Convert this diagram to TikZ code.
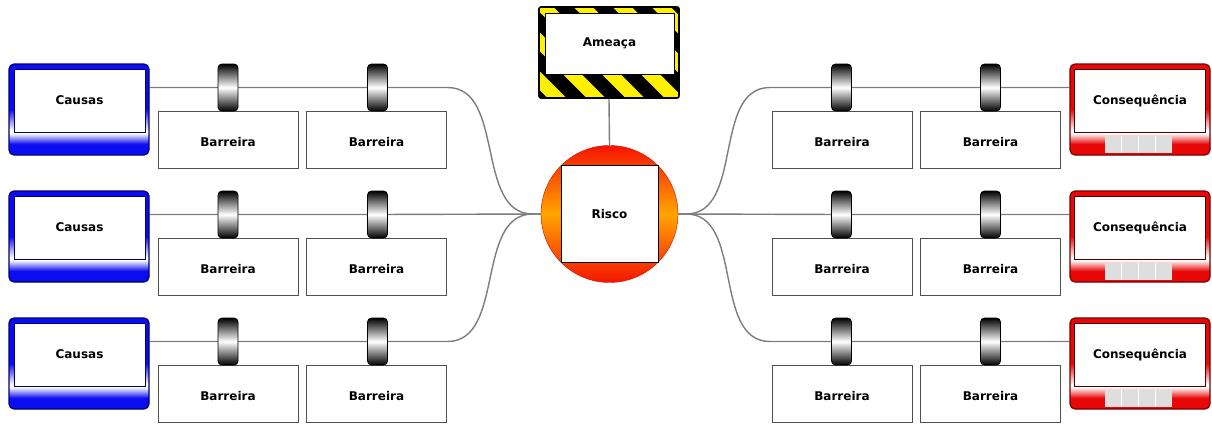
\documentclass[tikz,border=0pt]{standalone}
\usepackage{fontspec}
\setmainfont{DejaVu Sans}
\usetikzlibrary{calc,backgrounds}

\definecolor{causeblue}{RGB}{12,12,240}
\definecolor{causeedge}{RGB}{0,0,110}
\definecolor{conred}{RGB}{232,8,8}
\definecolor{conedge}{RGB}{120,0,0}
\definecolor{linkgray}{RGB}{125,125,125}
\definecolor{boxedge}{RGB}{80,80,80}
\definecolor{hazyellow}{RGB}{255,240,0}
\definecolor{riskred}{RGB}{245,20,0}
\definecolor{riskorange}{RGB}{255,165,0}
\definecolor{cellgray}{RGB}{222,222,222}

% frame shadings: solid colour, fading to white just under the label area, then back
\pgfdeclareverticalshading{causeshade}{100bp}{color(0bp)=(causeblue); color(25bp)=(causeblue); color(31bp)=(causeblue); color(37bp)=(white); color(38.5bp)=(white); color(50bp)=(causeblue); color(75bp)=(causeblue); color(100bp)=(causeblue)}
\pgfdeclareverticalshading{conshade}{100bp}{color(0bp)=(conred); color(25bp)=(conred); color(31bp)=(conred); color(37bp)=(white); color(38.5bp)=(white); color(50bp)=(conred); color(75bp)=(conred); color(100bp)=(conred)}

\tikzset{
  lbl/.style={font=\fontsize{12}{14}\selectfont\bfseries},
  link/.style={draw=linkgray, line width=1.4pt},
  barbox/.style={lbl, draw=boxedge, fill=white, line width=0.9pt, minimum width=140, minimum height=57, inner sep=0pt,
    text height=13.5pt, text depth=0pt},
  cyl/.style={draw=black, line width=0.8pt, rounded corners=4pt, minimum width=20, minimum height=47, inner sep=0pt,
    top color=black, bottom color=black, middle color=white},
  causeframe/.style={draw=causeedge, line width=1.2pt, rounded corners=5pt, minimum width=140, minimum height=91, inner sep=0pt, shading=causeshade},
  conframe/.style={draw=conedge, line width=1.2pt, rounded corners=5pt, minimum width=140, minimum height=91, inner sep=0pt, shading=conshade},
  labelbox/.style={lbl, fill=white, line width=0.6pt, minimum width=131, minimum height=63, inner sep=0pt},
  hazard/.style={draw=black, line width=1.6pt, rounded corners=2pt, minimum width=140, minimum height=91, inner sep=0pt,
    path picture={
      \fill[hazyellow] (path picture bounding box.north west) rectangle (path picture bounding box.south east);
      \foreach \hz in {-6,...,6}
        \draw[black, line width=13.8pt] ($(path picture bounding box.center)+(\hz*39-130,-130)$) -- ++(260,260);
    }},
}

\begin{document}
\begin{tikzpicture}[x=1pt,y=-1pt]
\useasboundingbox (0,0) rectangle (1212,423);

% threat and risk
\node[hazard] (amea) at (609,52.5) {};
\node[labelbox, draw=black, minimum width=129, minimum height=61] (ameat) at (609.5,43.5) {Ameaça};
\node[circle, minimum size=137, inner sep=0pt, top color=riskred, bottom color=riskred, middle color=riskorange,
      draw=riskred!85!black, line width=0.4pt] (risco) at (609.5,214) {};
\node[lbl, draw=black, fill=white, line width=1pt, minimum size=97, inner sep=0pt] (riscot) at (609.5,214) {Risco};

\foreach \r in {0,1,2}{
  \pgfmathsetmacro\L{87+127*\r}
  % causes with their barriers
  \node[causeframe] (c\r) at (79,\L+22.5) {};
  \node[labelbox, draw=causeedge] (ct\r) at (79.5,\L+13.5) {Causas};
  \node[barbox] (b\r a) at (228,\L+52.5) {Barreira};
  \node[barbox] (b\r b) at (376.5,\L+52.5) {Barreira};
  \node[cyl] (k\r a) at (228,\L+0.5) {};
  \node[cyl] (k\r b) at (377.5,\L+0.5) {};
  % consequences with their barriers
  \node[barbox] (d\r a) at (842,\L+52.5) {Barreira};
  \node[barbox] (d\r b) at (990.5,\L+52.5) {Barreira};
  \node[cyl] (m\r a) at (841.5,\L+0.5) {};
  \node[cyl] (m\r b) at (990.5,\L+0.5) {};
  \node[conframe] (q\r) at (1140,\L+22.5) {};
  \node[labelbox, draw=conedge!60!black] (qt\r) at (1140,\L+13.5) {Consequência};
  \fill[cellgray] ($(q\r.south)+(-35,-20)$) rectangle ++(67,17);
  \foreach \k in {1,2,3}
    \draw[white, line width=1pt] ($(q\r.south)+(-35+\k*16.75,-20)$) -- ++(0,17);
}

\begin{pgfonlayer}{background}
  \draw[link] (amea.south) -- (risco.north);
  % left side
  \draw[link] (k0a -| c0.east) -- (k0a.center) -- (k0b.center) -- ++(70,0)
     .. controls +(58,0) and +(-58,0) .. ($(risco.west)+(-8,0)$) -- (risco.west);
  \draw[link] (k1a -| c1.east) -- (k1a.center) -- (k1b.center) -- (risco.west);
  \draw[link] (k2a -| c2.east) -- (k2a.center) -- (k2b.center) -- ++(70,0)
     .. controls +(58,0) and +(-58,0) .. ($(risco.west)+(-8,0)$) -- (risco.west);
  % right side
  \draw[link] (risco.east) -- ++(8,0)
     .. controls +(58,0) and +(-58,0) .. ($(m0a)+(-71.5,0)$) -- (m0a.center) -- (m0b.center) -- (m0b -| q0.west);
  \draw[link] (risco.east) -- (m1a.center) -- (m1b.center) -- (m1b -| q1.west);
  \draw[link] (risco.east) -- ++(8,0)
     .. controls +(58,0) and +(-58,0) .. ($(m2a)+(-71.5,0)$) -- (m2a.center) -- (m2b.center) -- (m2b -| q2.west);
\end{pgfonlayer}
\end{tikzpicture}
\end{document}
